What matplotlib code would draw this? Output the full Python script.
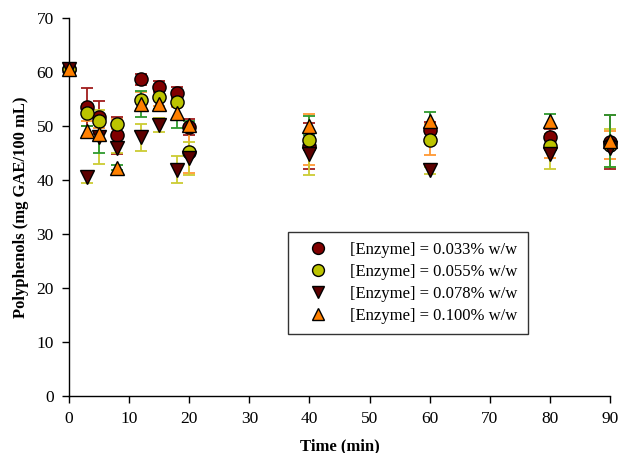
import numpy as np
import matplotlib.pyplot as plt

plt.rcParams['font.family'] = ['Liberation Serif', 'DejaVu Serif']

# sampling times (min)
time = [0, 3, 5, 8, 12, 15, 18, 20, 40, 60, 80, 90]

# polyphenol content (mg GAE/100 mL) and standard deviations
pp_033 = [60.5, 53.6, 51.6, 48.3, 58.7, 57.3, 56.2, 49.8, 46.3, 49.3, 48.0, 47.1]
sd_033 = [0.5, 3.5, 3.0, 3.4, 1.0, 1.0, 1.0, 1.5, 4.2, 1.5, 1.5, 5.0]

pp_055 = [60.5, 52.5, 50.9, 50.4, 54.8, 55.3, 54.5, 45.2, 47.5, 47.5, 46.3, 46.5]
sd_055 = [0.5, 1.6, 1.3, 1.0, 1.6, 1.5, 1.0, 3.9, 4.7, 2.9, 2.3, 2.6]

pp_078 = [60.5, 40.5, 47.9, 46.0, 47.9, 50.2, 41.9, 44.0, 44.9, 41.8, 44.9, 45.9]
sd_078 = [0.5, 1.0, 5.0, 1.0, 2.5, 1.3, 2.5, 3.0, 4.0, 0.6, 2.8, 3.5]

pp_100 = [60.5, 49.1, 48.5, 42.3, 54.1, 54.1, 52.4, 50.2, 50.1, 50.9, 50.9, 47.2]
sd_100 = [0.5, 1.0, 3.5, 0.5, 2.4, 1.0, 2.7, 0.8, 1.8, 1.8, 1.3, 4.8]

labels = ['[Enzyme] = 0.033% w/w', '[Enzyme] = 0.055% w/w',
          '[Enzyme] = 0.078% w/w', '[Enzyme] = 0.100% w/w']

fig = plt.figure(figsize=(6.19, 4.53), dpi=100)
ax = fig.add_axes([0.1115, 0.1258, 0.874, 0.8342])

series = [
    (pp_033, sd_033, 'o', '#800000', '#a01c1c'),
    (pp_055, sd_055, 'o', '#bcc400', '#ff9933'),
    (pp_078, sd_078, 'v', '#5c0000', '#cccc33'),
    (pp_100, sd_100, '^', '#ff8000', '#2e9a2e'),
]

handles = []
for (y, e, m, fc, ec), lab in zip(series, labels):
    _, caps, bars = ax.errorbar(time, y, yerr=e, fmt='none', ecolor=ec,
                                elinewidth=1.3, capsize=4, capthick=1.3)
    for art in list(caps) + list(bars):
        art.set_clip_on(False)
    h, = ax.plot(time, y, ls='none', marker=m, ms=9.5, mfc=fc, mec='black',
                 mew=1, label=lab, clip_on=False, zorder=3)
    handles.append(h)

ax.set_xlim(0, 90)
ax.set_ylim(0, 70)
ax.set_xticks(np.arange(0, 91, 10))
ax.set_yticks(np.arange(0, 71, 10))
ax.tick_params(direction='out', length=5, width=1, labelsize=12.5, pad=6)
for s in ['top', 'right']:
    ax.spines[s].set_visible(False)
for s in ['left', 'bottom']:
    ax.spines[s].set_linewidth(1)

ax.set_xlabel('Time (min)', fontsize=12, fontweight='bold', labelpad=8)
ax.set_ylabel('Polyphenols (mg GAE/100 mL)', fontsize=12, fontweight='bold',
              labelpad=5)

leg = ax.legend(handles=handles, loc='upper left',
                bbox_to_anchor=(0.405, 0.434),
                fontsize=12, frameon=True, fancybox=False, borderpad=0.6,
                handletextpad=0.72, labelspacing=0.36, handlelength=2.4,
                markerscale=0.9, borderaxespad=0)
leg.get_frame().set_edgecolor('black')
leg.get_frame().set_linewidth(1)

fig.savefig('out.png', dpi=100)
